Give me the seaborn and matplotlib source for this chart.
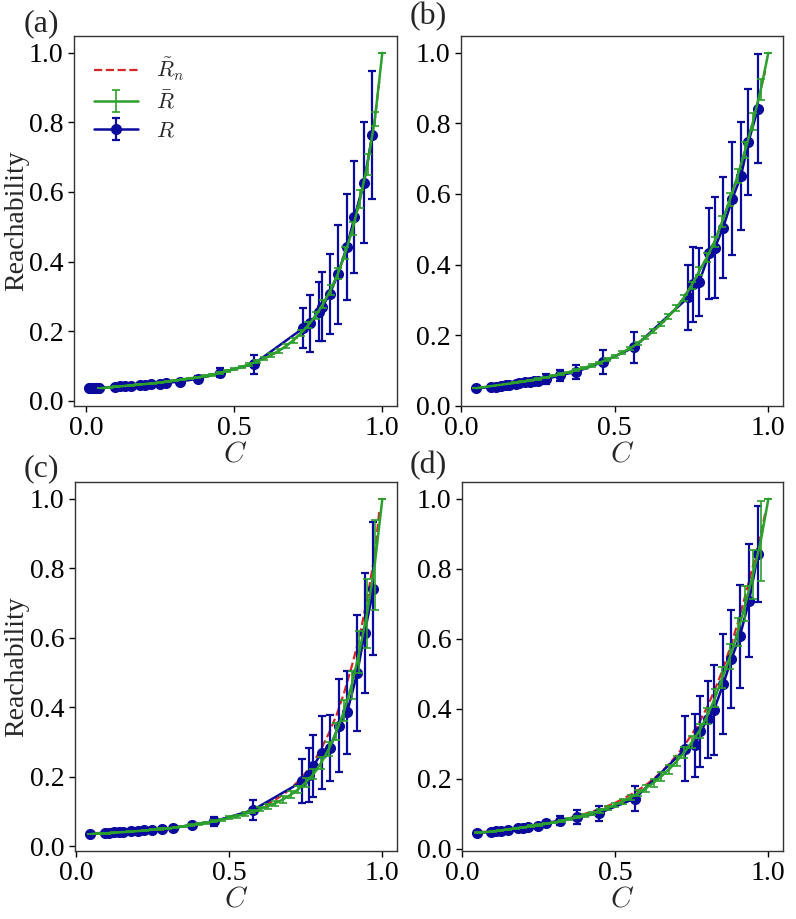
import numpy as np
import pandas as pd
import matplotlib
matplotlib.use("Agg")
import matplotlib.pyplot as plt
import seaborn as sns

# ---------------- data ----------------
# green curve (R-bar) grid
C_grid = [0.05, 0.075, 0.1, 0.125, 0.15, 0.175, 0.2, 0.225, 0.25, 0.275,
          0.3, 0.325, 0.35, 0.375, 0.4, 0.425, 0.45, 0.475, 0.5, 0.525,
          0.55, 0.575, 0.6, 0.625, 0.65, 0.675, 0.7, 0.725, 0.75, 0.775,
          0.8, 0.825, 0.85, 0.875, 0.9, 0.925, 0.95, 0.975, 1.0]

green_a = [0.036, 0.038, 0.040, 0.042, 0.044, 0.046, 0.048, 0.050, 0.052, 0.055,
           0.058, 0.061, 0.064, 0.067, 0.071, 0.075, 0.080, 0.085, 0.091, 0.097,
           0.104, 0.112, 0.121, 0.131, 0.143, 0.157, 0.174, 0.194, 0.217, 0.245,
           0.278, 0.318, 0.365, 0.425, 0.495, 0.580, 0.680, 0.810, 1.000]
green_b = [0.050, 0.053, 0.056, 0.059, 0.062, 0.065, 0.068, 0.072, 0.076, 0.080,
           0.085, 0.090, 0.095, 0.101, 0.107, 0.114, 0.122, 0.131, 0.140, 0.151,
           0.163, 0.177, 0.193, 0.211, 0.231, 0.253, 0.277, 0.306, 0.341, 0.381,
           0.420, 0.465, 0.522, 0.585, 0.652, 0.725, 0.805, 0.895, 1.000]
green_c = [0.036, 0.037, 0.038, 0.039, 0.041, 0.042, 0.044, 0.046, 0.048, 0.050,
           0.052, 0.055, 0.058, 0.061, 0.064, 0.068, 0.072, 0.077, 0.082, 0.087,
           0.093, 0.100, 0.107, 0.115, 0.124, 0.135, 0.148, 0.164, 0.184, 0.208,
           0.240, 0.280, 0.330, 0.390, 0.465, 0.560, 0.670, 0.810, 1.000]
green_d = [0.046, 0.048, 0.050, 0.053, 0.056, 0.059, 0.062, 0.065, 0.068, 0.072,
           0.076, 0.080, 0.085, 0.090, 0.096, 0.102, 0.109, 0.117, 0.126, 0.136,
           0.147, 0.159, 0.173, 0.189, 0.207, 0.227, 0.250, 0.276, 0.305, 0.338,
           0.380, 0.430, 0.490, 0.550, 0.620, 0.700, 0.785, 0.880, 1.000]

gerr_a = [0.001, 0.001, 0.001, 0.001, 0.001, 0.001, 0.001, 0.001, 0.002, 0.002,
          0.002, 0.002, 0.002, 0.002, 0.002, 0.003, 0.003, 0.003, 0.003, 0.003,
          0.004, 0.004, 0.004, 0.005, 0.005, 0.006, 0.007, 0.008, 0.009, 0.010,
          0.012, 0.014, 0.016, 0.018, 0.020, 0.025, 0.030, 0.020, 0.000]
gerr_b = [0.001, 0.001, 0.001, 0.001, 0.001, 0.001, 0.001, 0.001, 0.002, 0.002,
          0.002, 0.002, 0.002, 0.002, 0.003, 0.003, 0.003, 0.003, 0.004, 0.004,
          0.004, 0.005, 0.005, 0.006, 0.006, 0.007, 0.008, 0.009, 0.010, 0.011,
          0.012, 0.014, 0.016, 0.018, 0.020, 0.022, 0.025, 0.030, 0.000]
gerr_c = [0.001, 0.001, 0.001, 0.001, 0.001, 0.001, 0.001, 0.001, 0.002, 0.002,
          0.002, 0.002, 0.002, 0.002, 0.003, 0.003, 0.003, 0.003, 0.004, 0.004,
          0.005, 0.005, 0.006, 0.007, 0.008, 0.009, 0.010, 0.011, 0.012, 0.014,
          0.016, 0.020, 0.025, 0.030, 0.040, 0.060, 0.100, 0.130, 0.000]
gerr_d = [0.001, 0.001, 0.001, 0.001, 0.001, 0.001, 0.002, 0.002, 0.002, 0.002,
          0.002, 0.003, 0.003, 0.003, 0.004, 0.004, 0.005, 0.005, 0.006, 0.007,
          0.008, 0.009, 0.010, 0.011, 0.012, 0.013, 0.014, 0.016, 0.018, 0.020,
          0.022, 0.026, 0.030, 0.035, 0.040, 0.050, 0.070, 0.115, 0.000]

# red dashed (R-tilde_n)
red_C = [0.05, 0.1, 0.15, 0.2, 0.25, 0.3, 0.35, 0.4, 0.45, 0.5,
         0.525, 0.55, 0.575, 0.6, 0.625, 0.65, 0.675, 0.7, 0.725, 0.75,
         0.775, 0.8, 0.825, 0.85, 0.875, 0.9, 0.925, 0.95, 0.975, 0.99]
red_a = [0.036, 0.040, 0.044, 0.048, 0.052, 0.058, 0.064, 0.071, 0.080, 0.091,
         0.097, 0.104, 0.112, 0.121, 0.131, 0.143, 0.157, 0.174, 0.194, 0.217,
         0.245, 0.278, 0.318, 0.365, 0.425, 0.495, 0.580, 0.680, 0.810, 0.920]
red_b = [0.050, 0.056, 0.062, 0.068, 0.076, 0.085, 0.095, 0.107, 0.122, 0.140,
         0.151, 0.163, 0.177, 0.193, 0.211, 0.231, 0.253, 0.277, 0.306, 0.341,
         0.381, 0.420, 0.465, 0.522, 0.585, 0.652, 0.725, 0.805, 0.895, 0.950]
red_c = [0.036, 0.038, 0.041, 0.044, 0.048, 0.052, 0.058, 0.065, 0.073, 0.084,
         0.090, 0.097, 0.104, 0.112, 0.122, 0.134, 0.148, 0.166, 0.187, 0.212,
         0.243, 0.280, 0.325, 0.377, 0.442, 0.518, 0.602, 0.710, 0.838, 0.965]
red_d = [0.047, 0.052, 0.057, 0.063, 0.070, 0.078, 0.088, 0.100, 0.114, 0.132,
         0.143, 0.155, 0.168, 0.183, 0.200, 0.220, 0.242, 0.267, 0.295, 0.327,
         0.363, 0.405, 0.455, 0.510, 0.575, 0.645, 0.725, 0.810, 0.900, 0.960]

# blue measured R with error bars
C_a = [0.008, 0.013, 0.018, 0.023, 0.028, 0.033, 0.038, 0.043, 0.096, 0.113,
       0.130, 0.152, 0.180, 0.197, 0.220, 0.248, 0.270, 0.315, 0.377, 0.450,
       0.565, 0.732, 0.757, 0.786, 0.797, 0.822, 0.850, 0.880, 0.906, 0.938, 0.966]
R_a = [0.035, 0.035, 0.035, 0.036, 0.036, 0.036, 0.037, 0.037, 0.040, 0.041,
       0.042, 0.043, 0.045, 0.046, 0.047, 0.049, 0.051, 0.055, 0.063, 0.080,
       0.105, 0.208, 0.223, 0.256, 0.270, 0.306, 0.363, 0.442, 0.528, 0.627, 0.764]
E_a = [0.002, 0.002, 0.002, 0.002, 0.002, 0.002, 0.002, 0.002, 0.003, 0.003,
       0.003, 0.003, 0.003, 0.003, 0.004, 0.004, 0.004, 0.005, 0.007, 0.013,
       0.027, 0.058, 0.082, 0.085, 0.099, 0.115, 0.142, 0.153, 0.162, 0.173, 0.185]

C_b = [0.048, 0.097, 0.114, 0.130, 0.146, 0.157, 0.179, 0.190, 0.207, 0.223,
       0.239, 0.250, 0.278, 0.321, 0.374, 0.461, 0.564, 0.739, 0.754, 0.775,
       0.808, 0.826, 0.853, 0.883, 0.911, 0.935, 0.966]
R_b = [0.050, 0.053, 0.054, 0.056, 0.058, 0.059, 0.062, 0.064, 0.066, 0.068,
       0.070, 0.071, 0.076, 0.086, 0.096, 0.124, 0.166, 0.307, 0.344, 0.351,
       0.432, 0.448, 0.505, 0.587, 0.651, 0.747, 0.842]
E_b = [0.003, 0.003, 0.003, 0.004, 0.004, 0.004, 0.005, 0.005, 0.006, 0.006,
       0.007, 0.008, 0.014, 0.016, 0.019, 0.033, 0.044, 0.092, 0.107, 0.097,
       0.129, 0.143, 0.142, 0.159, 0.153, 0.150, 0.154]

C_c = [0.044, 0.094, 0.108, 0.124, 0.141, 0.154, 0.179, 0.201, 0.223, 0.247,
       0.280, 0.316, 0.379, 0.450, 0.576, 0.739, 0.761, 0.775, 0.802, 0.829,
       0.857, 0.885, 0.918, 0.942, 0.971]
R_c = [0.037, 0.039, 0.039, 0.040, 0.041, 0.041, 0.043, 0.044, 0.046, 0.048,
       0.050, 0.053, 0.062, 0.072, 0.104, 0.187, 0.206, 0.232, 0.270, 0.283,
       0.347, 0.386, 0.499, 0.614, 0.741]
E_c = [0.002, 0.002, 0.002, 0.002, 0.002, 0.002, 0.003, 0.003, 0.003, 0.003,
       0.003, 0.004, 0.005, 0.013, 0.029, 0.063, 0.078, 0.089, 0.106, 0.096,
       0.134, 0.119, 0.166, 0.172, 0.191]

C_d = [0.047, 0.093, 0.110, 0.126, 0.148, 0.181, 0.200, 0.214, 0.247, 0.274,
       0.321, 0.375, 0.447, 0.564, 0.729, 0.761, 0.778, 0.802, 0.822, 0.853,
       0.879, 0.907, 0.937, 0.966]
R_d = [0.045, 0.049, 0.050, 0.052, 0.055, 0.059, 0.061, 0.062, 0.066, 0.073,
       0.081, 0.090, 0.102, 0.144, 0.286, 0.296, 0.336, 0.370, 0.396, 0.472,
       0.542, 0.608, 0.709, 0.842]
E_d = [0.003, 0.003, 0.003, 0.003, 0.003, 0.004, 0.004, 0.004, 0.005, 0.006,
       0.012, 0.020, 0.022, 0.036, 0.093, 0.090, 0.102, 0.109, 0.128, 0.143,
       0.140, 0.147, 0.161, 0.138]

panel_labels = ["(a)", "(b)", "(c)", "(d)"]
x_ticks = [0.0, 0.5, 1.0]
y_ticks = [0.0, 0.2, 0.4, 0.6, 0.8, 1.0]

# ---------------- style ----------------
sns.set_theme(style="ticks")
plt.rcParams["font.family"] = ["Liberation Serif", "DejaVu Serif"]
plt.rcParams["mathtext.fontset"] = "cm"
plt.rcParams["axes.edgecolor"] = "#333333"
plt.rcParams["axes.linewidth"] = 1.0

BLUE = "#0a0a9c"
GREEN = "#2ca02c"
RED = "#d62728"

W, H = 796, 919
fig = plt.figure(figsize=(W / 100, H / 100), dpi=100)

rects = [
    (74, 36, 397, 406),
    (461, 36, 783, 406),
    (75, 482, 397, 851),
    (462, 482, 783, 851),
]
label_pos = [(24, 24), (410, 17), (24, 469), (410, 466)]

panels = [
    (green_a, gerr_a, red_a, C_a, R_a, E_a),
    (green_b, gerr_b, red_b, C_b, R_b, E_b),
    (green_c, gerr_c, red_c, C_c, R_c, E_c),
    (green_d, gerr_d, red_d, C_d, R_d, E_d),
]

for i, (g, ge, r, cb, rb, eb) in enumerate(panels):
    x0, y0, x1, y1 = rects[i]
    ax = fig.add_axes([x0 / W, 1 - y1 / H, (x1 - x0) / W, (y1 - y0) / H])
    red_df = pd.DataFrame({"C": red_C, "R": r})
    sns.lineplot(data=red_df, x="C", y="R", ax=ax, color=RED, lw=1.6,
                 linestyle="--", label=r"$\tilde{R}_n$", zorder=1)
    ax.errorbar(C_grid, g, yerr=ge, color=GREEN, lw=1.8, capsize=3,
                elinewidth=1.2, capthick=1.2, label=r"$\bar{R}$", zorder=3)
    ax.errorbar(cb, rb, yerr=eb, color=BLUE, lw=1.8, marker="o", ms=7,
                capsize=3, elinewidth=1.6, capthick=1.6, label=r"$R$", zorder=2)
    ax.set_xticks(x_ticks)
    ax.set_yticks(y_ticks)
    ax.tick_params(labelsize=20, length=4, width=1, colors="black")
    ax.set_xlabel(r"$C$", fontsize=21, labelpad=0)
    if i % 2 == 0:
        ax.set_ylabel("Reachability", fontsize=20)
        ax.yaxis.set_label_coords(-(x0 - 29) / (x1 - x0), 0.5)
    else:
        ax.set_ylabel("")
    if i == 0:
        ax.legend(loc="upper left", frameon=False, fontsize=16,
                  handlelength=2.0, labelspacing=0.35)
    else:
        leg = ax.get_legend()
        if leg is not None:
            leg.remove()
    lx, ly = label_pos[i]
    fig.text(lx / W, 1 - ly / H, panel_labels[i], fontsize=23,
             ha="left", va="center")

fig.savefig("out.png", dpi=100)
